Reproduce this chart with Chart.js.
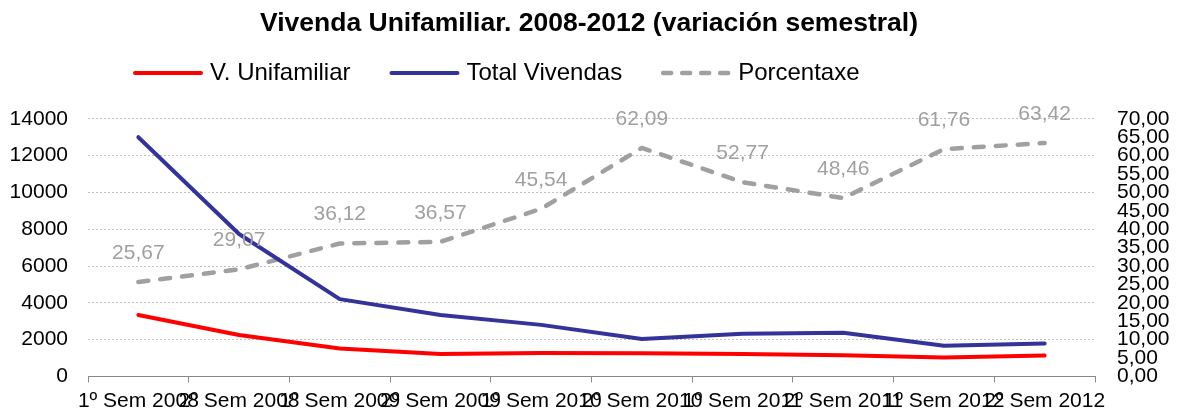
<!DOCTYPE html>
<html>
<head>
<meta charset="utf-8">
<script src="https://cdn.jsdelivr.net/npm/chart.js@4/dist/chart.umd.min.js"></script>
<style>
  html, body { margin: 0; padding: 0; background: #fff; }
  #wrap { width: 1178px; height: 411px; position: relative; }
</style>
</head>
<body>
<div id="wrap"><canvas id="c"></canvas></div>
<script>
const categories = ['1º Sem 2008', '2º Sem 2008', '1º Sem 2009', '2º Sem 2009', '1º Sem 2010', '2º Sem 2010', '1º Sem 2011', '2º Sem 2011', '1º Sem 2012', '2º Sem 2012'];
const unifamiliar = [3340, 2250, 1517, 1221, 1275, 1260, 1222, 1148, 1031, 1135];
const totalVivendas = [13000, 7740, 4200, 3340, 2800, 2030, 2315, 2370, 1670, 1790];
const porcentaxe = [25.67, 29.07, 36.12, 36.57, 45.54, 62.09, 52.77, 48.46, 61.76, 63.42];
const leftTicks = [0, 2000, 4000, 6000, 8000, 10000, 12000, 14000];
const rightTicks = [0, 5, 10, 15, 20, 25, 30, 35, 40, 45, 50, 55, 60, 65, 70];

const FONT = "'Liberation Sans', Arial, sans-serif";
const fmtComma = v => Number(v).toFixed(2).replace('.', ',');

const dataLabels = {
  id: 'dataLabels',
  afterDatasetsDraw(chart) {
    const meta = chart.getDatasetMeta(2);
    const ctx = chart.ctx;
    ctx.save();
    ctx.font = '21px ' + FONT;
    ctx.fillStyle = '#A0A0A0';
    ctx.textAlign = 'center';
    ctx.textBaseline = 'middle';
    meta.data.forEach((pt, i) => {
      ctx.fillText(fmtComma(porcentaxe[i]), pt.x, pt.y - 29);
    });
    ctx.restore();
  }
};

// Legend drawn in the style of the original (line sample + label), from the datasets
const lineLegend = {
  id: 'lineLegend',
  afterDraw(chart) {
    const ctx = chart.ctx;
    const y = 73;
    let x = 133;
    const sample = 70, textGap = 7, itemGap = 39;
    ctx.save();
    ctx.font = '24px ' + FONT;
    ctx.textBaseline = 'middle';
    ctx.textAlign = 'left';
    chart.data.datasets.forEach(ds => {
      ctx.save();
      ctx.strokeStyle = ds.borderColor;
      ctx.lineWidth = ds.borderWidth;
      ctx.lineCap = 'round';
      ctx.setLineDash(ds.borderDash ? [8, 11] : []);
      ctx.beginPath();
      ctx.moveTo(x + 2, y);
      ctx.lineTo(x + sample - 2, y);
      ctx.stroke();
      ctx.restore();
      ctx.fillStyle = '#000';
      const tx = x + sample + textGap;
      ctx.fillText(ds.label, tx, y);
      x = tx + ctx.measureText(ds.label).width + itemGap;
    });
    ctx.restore();
  }
};

new Chart(document.getElementById('c'), {
  type: 'line',
  data: {
    labels: categories,
    datasets: [
      { label: 'V. Unifamiliar', data: unifamiliar, yAxisID: 'y', borderColor: '#FF0000', backgroundColor: '#FF0000', borderWidth: 4, pointRadius: 0, tension: 0, borderCapStyle: 'round', borderJoinStyle: 'round' },
      { label: 'Total Vivendas', data: totalVivendas, yAxisID: 'y', borderColor: '#333399', backgroundColor: '#333399', borderWidth: 4, pointRadius: 0, tension: 0, borderCapStyle: 'round', borderJoinStyle: 'round' },
      { label: 'Porcentaxe', data: porcentaxe, yAxisID: 'y1', borderColor: '#A0A0A0', backgroundColor: '#A0A0A0', borderWidth: 4.5, borderDash: [10, 12], borderCapStyle: 'round', borderJoinStyle: 'round', pointRadius: 0, tension: 0 }
    ]
  },
  options: {
    responsive: true,
    maintainAspectRatio: false,
    animation: false,
    layout: { padding: { top: 0, left: 0, right: 0, bottom: 0 } },
    plugins: {
      tooltip: { enabled: false },
      title: {
        display: true,
        text: 'Vivenda Unifamiliar. 2008-2012 (variación semestral)',
        color: '#000',
        font: { family: FONT, size: 26.5, weight: 'bold' },
        padding: { top: 8, bottom: 79 }
      },
      legend: { display: false }
    },
    scales: {
      x: {
        type: 'category',
        offset: true,
        grid: { display: true, offset: true, drawOnChartArea: false, drawTicks: true, tickLength: 6, color: '#888' },
        border: { display: true, color: '#888', width: 1 },
        ticks: { autoSkip: false, maxRotation: 0, minRotation: 0, color: '#000', font: { family: FONT, size: 21 }, padding: 6 },
        afterFit(s) { s.height = 34; }
      },
      y: {
        position: 'left',
        min: 0, max: 14000,
        afterBuildTicks(s) { s.ticks = leftTicks.map(v => ({ value: v })); },
        grid: { display: true, drawTicks: false, color: '#C0C0C0', lineWidth: 1 },
        border: { display: false, dash: [2, 2] },
        ticks: { autoSkip: false, color: '#000', font: { family: FONT, size: 21 }, padding: 20, callback: v => String(v) },
        afterFit(s) { s.width = 88; }
      },
      y1: {
        position: 'right',
        min: 0, max: 70,
        afterBuildTicks(s) { s.ticks = rightTicks.map(v => ({ value: v })); },
        grid: { display: true, drawOnChartArea: false, drawTicks: false },
        border: { display: false },
        ticks: { autoSkip: false, color: '#000', font: { family: FONT, size: 21 }, padding: 22, callback: v => fmtComma(v) },
        afterFit(s) { s.width = 83; }
      }
    }
  },
  plugins: [dataLabels, lineLegend]
});
</script>
</body>
</html>
